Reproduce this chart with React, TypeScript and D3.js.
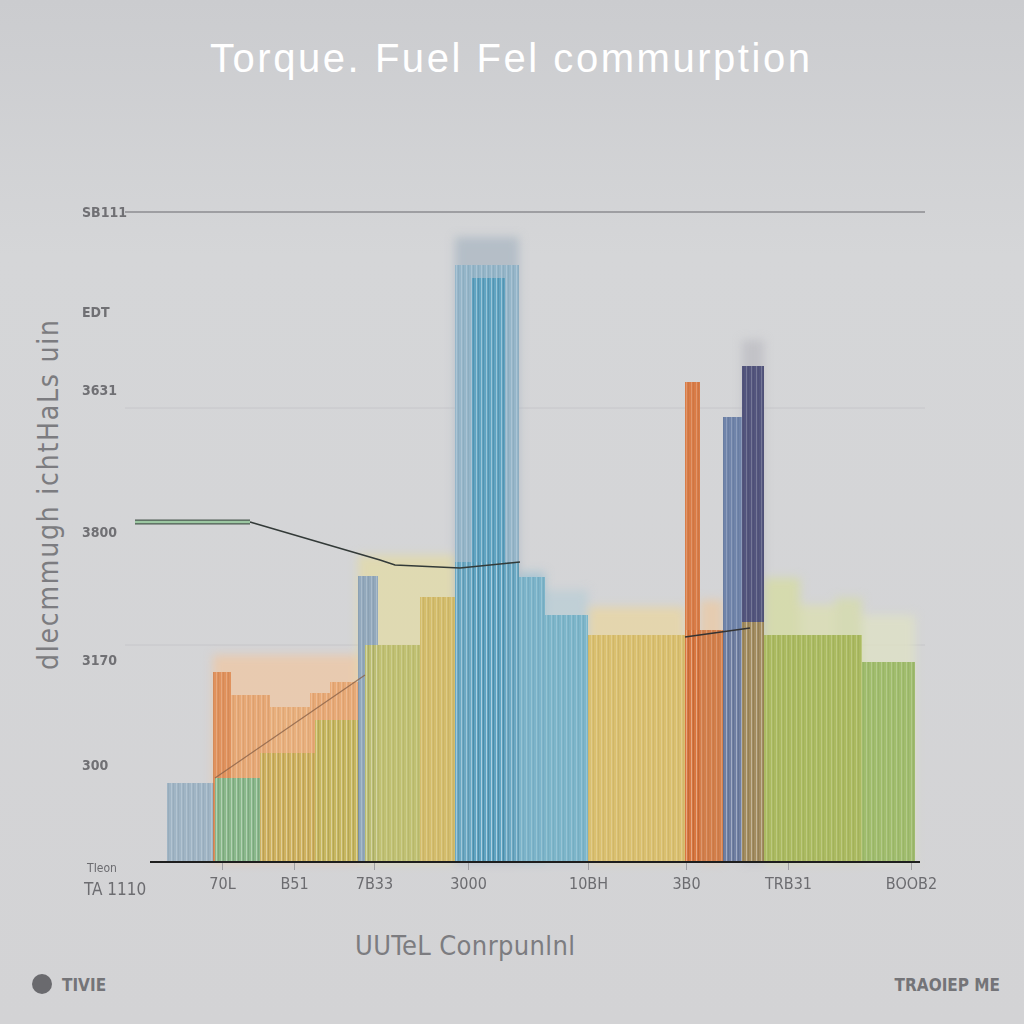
import { useEffect, useRef } from 'react';
import * as d3 from 'd3';

// x is in "time" units along the axis, value is the bar height
const hazeBars: [number, number, number, string][] = [
  [6.3, 21, 207, '#efc7a3'],
  [20.8, 30.6, 307, '#e3dba6'],
  [30.5, 36.9, 625, '#a9b6c2'],
  [59.2, 61.4, 522, '#bcbcc2'],
  [36.9, 39.5, 290, '#9cc0d0'],
  [39.5, 43.8, 272, '#b9cdd6'],
  [43.8, 53.5, 255, '#e9d6a0'],
  [55, 57.3, 262, '#ebc9a3'],
  [61.4, 65, 284, '#d6dca0'],
  [65, 68.5, 257, '#dcdfb0'],
  [68.5, 71.2, 264, '#d6dcaa'],
  [71.2, 76.5, 247, '#dfe2c4'],
];

const mainBars: [number, number, number, string][] = [
  [1.7, 6.5, 79, '#9db3c4'],
  [6.3, 8.1, 190, '#df8e58'],
  [8.1, 12, 167, '#e7a673'],
  [12, 16, 155, '#e9ae7a'],
  [16, 18, 169, '#e8a874'],
  [18, 21, 180, '#e8a874'],
  [6.5, 11, 84, '#86bb8e'],
  [11, 16.5, 109, '#cdb25e'],
  [16.5, 21, 142, '#c5b860'],
  [20.8, 22.8, 286, '#8ea7bd'],
  [21.5, 27, 217, '#bfc070'],
  [27, 30.6, 265, '#d3bc68'],
  [30.5, 36.9, 597, '#93b5c9'],
  [30.5, 36.9, 300, '#6aa9c4'],
  [32.2, 35.5, 584, '#5fa3c2'],
  [36.9, 39.5, 285, '#79b3c9'],
  [39.5, 43.8, 247, '#79b4c9'],
  [43.8, 53.5, 227, '#d9bf6c'],
  [53.5, 59.2, 232, '#d27a45'],
  [53.5, 55, 480, '#d9773f'],
  [57.3, 59.2, 445, '#6a80a8'],
  [59.2, 61.4, 496, '#4d5078'],
  [59.2, 61.4, 240, '#a99060'],
  [61.4, 71.2, 227, '#a9b85c'],
  [71.2, 76.5, 200, '#9dba68'],
];

const curveA: [number, number][] = [
  [-1.5, 340], [10, 340], [23, 302], [24.5, 297], [31, 294], [37, 300],
];
const curveB: [number, number][] = [[6.5, 84], [21.5, 187]];
const curveC: [number, number][] = [[53.5, 225], [60, 234]];

const xTicks = [7.2, 14.4, 22.4, 31.8, 43.8, 53.6, 63.8, 76.1];
const xTickLabels = ['70L', 'B51', '7B33', '3000', '10BH', '3B0', 'TRB31', 'BOOB2'];

const yTicks = [650, 550, 472, 330, 202, 97];
const yTickLabels = ['SB111', 'EDT', '3631', '3800', '3170', '300'];
const yGrid = [454, 217];

const W = 1024;
const H = 1024;

export default function App() {
  const svgRef = useRef<SVGSVGElement>(null);

  useEffect(() => {
    if (!svgRef.current) return;
    const svg = d3.select(svgRef.current);
    svg.selectAll('*').remove();

    const x = d3.scaleLinear().domain([0, 77]).range([150, 920]);
    const y = d3.scaleLinear().domain([0, 650]).range([862, 212]);

    const defs = svg.append('defs');
    const bg = defs.append('linearGradient').attr('id', 'bg').attr('x1', 0).attr('y1', 0).attr('x2', 0).attr('y2', 1);
    bg.append('stop').attr('offset', '0%').attr('stop-color', '#cbcccf');
    bg.append('stop').attr('offset', '25%').attr('stop-color', '#d5d6d8');
    bg.append('stop').attr('offset', '100%').attr('stop-color', '#d3d3d5');

    const blur = defs.append('filter').attr('id', 'blur').attr('x', '-20%').attr('y', '-20%').attr('width', '140%').attr('height', '140%');
    blur.append('feGaussianBlur').attr('stdDeviation', 5);
    const soft = defs.append('filter').attr('id', 'soft');
    soft.append('feGaussianBlur').attr('stdDeviation', 0.6);

    const stripes = defs.append('pattern').attr('id', 'stripes').attr('width', 5).attr('height', 10).attr('patternUnits', 'userSpaceOnUse');
    stripes.append('rect').attr('x', 1).attr('width', 1).attr('height', 10).attr('fill', '#ffffff').attr('opacity', 0.2);
    stripes.append('rect').attr('x', 3).attr('width', 1).attr('height', 10).attr('fill', '#000000').attr('opacity', 0.05);

    svg.append('rect').attr('width', W).attr('height', H).attr('fill', 'url(#bg)');

    // title
    svg.append('text')
      .attr('x', 510).attr('y', 72)
      .attr('text-anchor', 'middle')
      .attr('font-family', 'Liberation Sans, Arial, sans-serif')
      .attr('font-size', 40)
      .attr('textLength', 600)
      .attr('fill', '#ffffff')
      .text('Torque. Fuel Fel  commurption');

    // grid
    svg.append('line').attr('x1', 125).attr('x2', 925).attr('y1', y(650)).attr('y2', y(650))
      .attr('stroke', '#8c8c90').attr('stroke-width', 1.4);
    svg.selectAll('.grid').data(yGrid).join('line')
      .attr('class', 'grid')
      .attr('x1', 125).attr('x2', 925)
      .attr('y1', (d) => y(d)).attr('y2', (d) => y(d))
      .attr('stroke', '#c6c6ca').attr('stroke-width', 1);

    // haze behind the bars
    svg.append('g').attr('filter', 'url(#blur)')
      .selectAll('rect').data(hazeBars).join('rect')
      .attr('x', (d) => x(d[0])).attr('width', (d) => x(d[1]) - x(d[0]))
      .attr('y', (d) => y(d[2])).attr('height', (d) => y(0) - y(d[2]))
      .attr('fill', (d) => d[3]).attr('opacity', 0.75);

    const barG = svg.append('g').attr('filter', 'url(#soft)');
    barG.selectAll('rect.bar').data(mainBars).join('rect')
      .attr('class', 'bar')
      .attr('x', (d) => x(d[0])).attr('width', (d) => x(d[1]) - x(d[0]))
      .attr('y', (d) => y(d[2])).attr('height', (d) => y(0) - y(d[2]))
      .attr('fill', (d) => d[3]).attr('opacity', 0.95);
    barG.selectAll('rect.str').data(mainBars).join('rect')
      .attr('class', 'str')
      .attr('x', (d) => x(d[0])).attr('width', (d) => x(d[1]) - x(d[0]))
      .attr('y', (d) => y(d[2])).attr('height', (d) => y(0) - y(d[2]))
      .attr('fill', 'url(#stripes)');

    // lines
    const line = d3.line<[number, number]>().x((d) => x(d[0])).y((d) => y(d[1]));
    svg.append('path').datum(curveA.slice(0, 2)).attr('d', line)
      .attr('fill', 'none').attr('stroke', '#4d5a52').attr('stroke-width', 5);
    svg.append('path').datum(curveA.slice(1)).attr('d', line)
      .attr('fill', 'none').attr('stroke', '#333a38').attr('stroke-width', 1.6);
    svg.append('path').datum(curveA.slice(0, 2)).attr('d', line)
      .attr('fill', 'none').attr('stroke', '#9cc7a2').attr('stroke-width', 2.5);
    svg.append('path').datum(curveB).attr('d', line)
      .attr('fill', 'none').attr('stroke', '#8a6248').attr('stroke-width', 1.2).attr('opacity', 0.8);
    svg.append('path').datum(curveC).attr('d', line)
      .attr('fill', 'none').attr('stroke', '#333333').attr('stroke-width', 1.5);

    // x axis
    const xAxis = svg.append('g').attr('transform', `translate(0,${y(0)})`)
      .call(d3.axisBottom(x).tickValues(xTicks).tickSize(8).tickFormat((_, i) => xTickLabels[i]));
    xAxis.select('.domain').remove();
    xAxis.selectAll('line').attr('stroke', '#a0a0a4');
    xAxis.selectAll('text')
      .attr('y', 16).attr('dy', '0.71em')
      .attr('font-family', 'DejaVu Sans Condensed, sans-serif')
      .attr('font-size', 16).attr('fill', '#6c6c70');
    svg.append('line').attr('x1', 150).attr('x2', 920).attr('y1', y(0)).attr('y2', y(0))
      .attr('stroke', '#1e1e1e').attr('stroke-width', 2);
    svg.append('text').attr('x', 115).attr('y', 895).attr('text-anchor', 'middle')
      .attr('font-family', 'DejaVu Sans Condensed, sans-serif').attr('font-size', 17).attr('fill', '#6c6c70')
      .text('TA 1110');
    svg.append('text').attr('x', 102).attr('y', 872).attr('text-anchor', 'middle')
      .attr('font-family', 'DejaVu Sans Condensed, sans-serif').attr('font-size', 12).attr('fill', '#6c6c70')
      .text('TIeon');

    // y labels
    svg.selectAll('.ylab').data(yTicks).join('text')
      .attr('class', 'ylab')
      .attr('x', 82).attr('y', (d) => y(d)).attr('dy', '0.35em')
      .attr('font-family', 'DejaVu Sans Condensed, sans-serif')
      .attr('font-weight', 'bold')
      .attr('font-size', 14).attr('fill', '#707074')
      .text((_, i) => yTickLabels[i]);

    svg.append('text')
      .attr('transform', 'translate(58,495) rotate(-90)')
      .attr('text-anchor', 'middle')
      .attr('font-family', 'DejaVu Sans Condensed, sans-serif')
      .attr('font-size', 28).attr('fill', '#7c7c80')
      .attr('textLength', 350)
      .text('dlecmmugh ichtHaLs uin');

    svg.append('text')
      .attr('x', 465).attr('y', 955).attr('text-anchor', 'middle')
      .attr('font-family', 'DejaVu Sans Condensed, sans-serif')
      .attr('font-size', 27).attr('fill', '#7c7c80')
      .attr('textLength', 220)
      .text('UUTeL  Conrpunlnl');

    // footer
    svg.append('circle').attr('cx', 42).attr('cy', 984).attr('r', 10).attr('fill', '#6a6a6e');
    svg.append('text').attr('x', 62).attr('y', 991)
      .attr('font-family', 'DejaVu Sans Condensed, sans-serif').attr('font-weight', 'bold')
      .attr('font-size', 17).attr('fill', '#747478').text('TIVIE');
    svg.append('text').attr('x', 1000).attr('y', 991).attr('text-anchor', 'end')
      .attr('font-family', 'DejaVu Sans Condensed, sans-serif').attr('font-weight', 'bold')
      .attr('font-size', 17).attr('fill', '#747478').text('TRAOIEP ME');
  }, []);

  return (
    <svg
      ref={svgRef}
      width={W}
      height={H}
      style={{ position: 'absolute', left: 0, top: 0, display: 'block' }}
    />
  );
}
